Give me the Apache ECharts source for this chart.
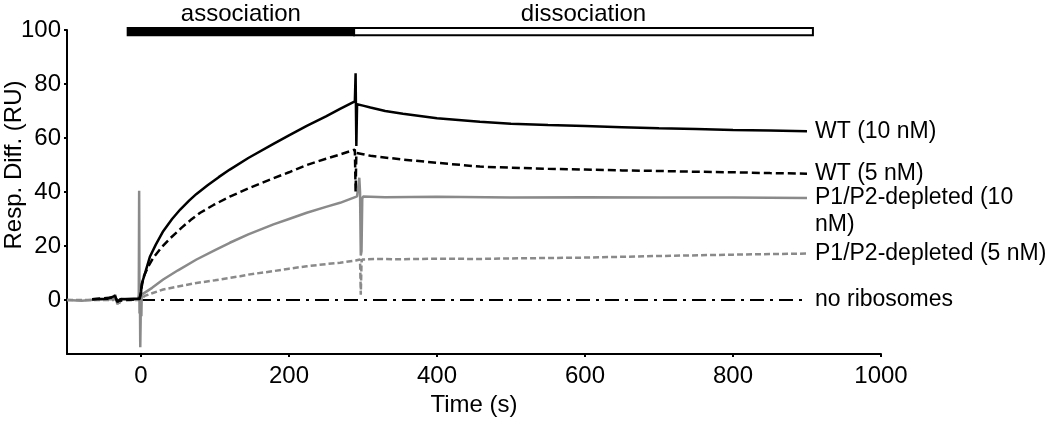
<!DOCTYPE html>
<html>
<head>
<meta charset="utf-8">
<script src="https://cdn.jsdelivr.net/npm/echarts@6/dist/echarts.min.js"></script>
<style>
  html, body { margin: 0; padding: 0; background: #fff; }
  #chart { width: 1050px; height: 422px; }
</style>
</head>
<body>
<div id="chart"></div>
<script>
// sensorgram traces, [time (s), response (RU)]
var wt10 = [[-66,0.3],[-45,0.5],[-35,1.5],[-32,-0.8],[-28,0.3],[-10,0.5],[-2,0.5],[0,3],[1,6],[5,9.5],[12,16],[20,20.5],[30,25.5],[42,30],[53,33.5],[65,36.8],[75,39.3],[90,42.5],[105,45.5],[120,48.3],[145,52.6],[179,57.8],[200,61],[224,64.5],[250,68],[269,70.8],[289,73.6],[290,84],[291,57],[292,72.5],[300,72],[310,71.3],[330,70],[354,69],[400,67.3],[458,66],[500,65.3],[550,64.8],[600,64.4],[650,64],[700,63.6],[750,63.3],[800,63],[850,62.8],[900,62.5]];
var wt5 = [[-66,0.3],[-35,1],[-32,-0.3],[-2,0.4],[0,2.5],[1,5],[3.5,8.6],[10,12.5],[17,15.8],[28,19.6],[40,23],[55,26.8],[67,29.6],[80,32.3],[98,35.2],[120,38.3],[145,41.3],[179,45.1],[200,47.3],[224,50],[250,52.3],[269,53.9],[289,55.7],[290,40],[291,54.5],[300,54],[310,53.4],[354,52],[400,50.8],[458,49.4],[500,49],[550,48.6],[600,48.3],[650,48],[700,47.8],[750,47.5],[800,47.3],[850,47],[900,46.8]];
var p10 = [[-100,0],[-80,-0.3],[-60,0.2],[-38,0.3],[-35,2],[-32,-1.5],[-30,-2.2],[-27,0.5],[-15,0],[-4,0.3],[-3,2],[-2.5,40.5],[-2,-5],[-1.5,5],[-1,-17.5],[-0.5,-8],[0,4],[0.5,-6],[1,2],[2,1.5],[3.5,2.2],[15,4.5],[30,7.6],[50,11],[75,15],[100,18.5],[120,21.2],[145,24.3],[179,28],[200,30],[224,32.3],[250,34.5],[269,36],[292,38.4],[294,39],[295,45.3],[296,40],[297,16.5],[298,18],[299,37.5],[300,38.3],[330,38.1],[400,38.2],[500,38],[600,38.1],[700,38],[800,38],[900,37.8]];
var p5 = [[-100,0],[-37,0],[-34,1.5],[-31,-2],[-27,0],[-3,0],[0,0.5],[5,1.5],[15,2.5],[30,3.9],[50,5],[75,6.3],[100,7.3],[134,8.8],[145,9.4],[179,10.7],[200,11.6],[224,12.5],[250,13.3],[269,13.8],[290,14.6],[296,15],[297,2],[298,14],[299,15],[320,15.2],[346,15.1],[400,15.3],[458,15.2],[500,15.4],[600,15.7],[700,16.3],[800,16.8],[900,17.2]];
var noRibo = [[0,0],[900,0]];

// injection phases drawn as the bar above the plot: [start, end, bottom, top]
var phaseNames = ['association', 'dissociation'];
var phaseSpans = [[-18, 288, 98.1, 100.7], [288, 908, 98.1, 100.7]];

var xTicks = [0, 200, 400, 600, 800, 1000];
var yTicks = [0, 20, 40, 60, 80, 100];

var FONT = 'Liberation Sans, Arial, Helvetica, sans-serif';
var GRAY = '#8a8a8a';

var chart = echarts.init(document.getElementById('chart'));

function trace(name, data, color, type, width, label) {
  return {
    name: name,
    type: 'line',
    data: data,
    showSymbol: false,
    symbol: 'none',
    lineStyle: { color: color, width: width, type: type },
    endLabel: label || {
      show: true,
      formatter: name,
      color: '#000',
      fontSize: 23,
      fontFamily: FONT,
      distance: 8
    },
    z: 3
  };
}

var option = {
  animation: false,
  backgroundColor: '#fff',
  textStyle: { fontFamily: FONT },
  grid: { left: 67, right: 169, top: 30, bottom: 68, containLabel: false },
  xAxis: {
    type: 'value',
    min: -100,
    max: 1000,
    name: 'Time (s)',
    nameLocation: 'middle',
    nameGap: 38,
    nameTextStyle: { color: '#000', fontSize: 24, fontFamily: FONT },
    axisLine: { show: true, onZero: false, lineStyle: { color: '#000', width: 2 } },
    axisTick: { show: true, length: 3, customValues: xTicks, lineStyle: { color: '#000', width: 2 } },
    axisLabel: {
      customValues: xTicks, color: '#000', fontSize: 24, fontFamily: FONT, margin: 10,
      formatter: function (v) { return String(v); }
    },
    splitLine: { show: false }
  },
  yAxis: {
    type: 'value',
    min: -20,
    max: 100,
    axisLine: { show: true, onZero: false, lineStyle: { color: '#000', width: 2 } },
    axisTick: { show: true, length: 3, customValues: yTicks, lineStyle: { color: '#000', width: 2 } },
    axisLabel: {
      customValues: yTicks, color: '#000', fontSize: 24, fontFamily: FONT, margin: 6,
      formatter: function (v) { return String(v); }
    },
    splitLine: { show: false }
  },
  graphic: [{
    type: 'text',
    x: 14,
    y: 165,
    rotation: Math.PI / 2,
    style: {
      text: 'Resp. Diff. (RU)',
      fill: '#000',
      font: '24px ' + FONT,
      textAlign: 'center',
      textVerticalAlign: 'middle'
    }
  }],
  series: [
    trace('no ribosomes', noRibo, '#000', [14, 6, 3, 6], 2),
    trace('P1/P2-depleted (5 nM)', p5, GRAY, [6, 3], 2.5),
    trace('P1/P2-depleted (10 nM)', p10, GRAY, 'solid', 2.5, {
      show: true,
      formatter: 'P1/P2-depleted (10\nnM)',
      color: '#000',
      fontSize: 23,
      lineHeight: 27,
      fontFamily: FONT,
      distance: 8,
      offset: [0, 13.5]
    }),
    trace('WT (5 nM)', wt5, '#000', [8, 4], 2.5),
    trace('WT (10 nM)', wt10, '#000', 'solid', 2.5),
    {
      type: 'custom',
      clip: false,
      silent: true,
      data: phaseSpans.map(function (s, i) { return s.concat([i]); }),
      renderItem: function (params, api) {
        var p0 = api.coord([api.value(0), api.value(3)]);
        var p1 = api.coord([api.value(1), api.value(2)]);
        var i = api.value(4);
        return {
          type: 'group',
          children: [{
            type: 'rect',
            shape: { x: p0[0], y: p0[1], width: p1[0] - p0[0], height: p1[1] - p0[1] },
            style: { fill: i === 0 ? '#000' : '#fff', stroke: '#000', lineWidth: 2 }
          }, {
            type: 'text',
            x: (p0[0] + p1[0]) / 2,
            y: p0[1] - 14,
            style: {
              text: phaseNames[i],
              fill: '#000',
              font: '24px ' + FONT,
              textAlign: 'center',
              textVerticalAlign: 'middle'
            }
          }]
        };
      }
    }
  ]
};

chart.setOption(option);
window.addEventListener('resize', chart.resize);
</script>
</body>
</html>
